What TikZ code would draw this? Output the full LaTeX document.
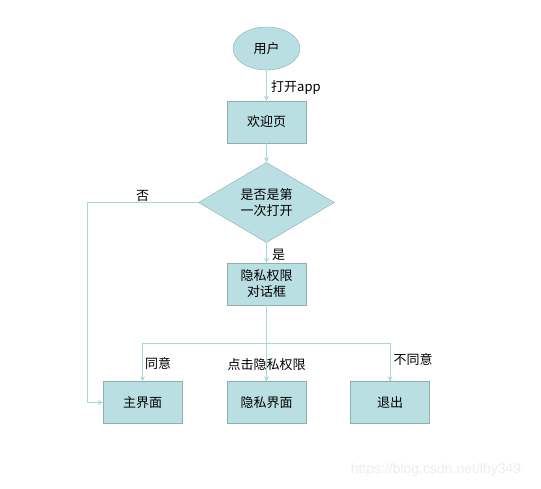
\documentclass[tikz,border=0pt]{standalone}
\usepackage{fontspec}
\newfontfamily\cjk{Noto Sans CJK SC}
\newfontfamily\wmfont{Liberation Sans}
\usetikzlibrary{shapes.geometric,arrows.meta}
\definecolor{boxfill}{HTML}{BADFE3}
\definecolor{boxline}{HTML}{8EAEB0}
\definecolor{flowline}{HTML}{A8D8DF}
\begin{document}
\begin{tikzpicture}[x=1pt,y=-1pt,
    font=\cjk\fontsize{13}{16}\selectfont,
    box/.style={draw=boxline,fill=boxfill,minimum width=79pt,minimum height=42pt,inner sep=1pt,align=center},
    flow/.style={draw=flowline,line width=0.8pt,-{Stealth[length=5pt,width=5pt]}},
    plain/.style={draw=flowline,line width=0.8pt}]
  \useasboundingbox (0,0) rectangle (541,488);
  \def\midx{266.5}

  \node[ellipse,draw=boxline,fill=boxfill,minimum width=67pt,minimum height=43pt] (user) at (\midx,48.5) {用户};
  \node[box] (welcome) at (\midx,122) {欢迎页};
  \node[diamond,draw=boxline,fill=boxfill,minimum width=136pt,minimum height=65pt,inner sep=0pt,align=center] (first) at (\midx,202.5) {是否是第\\一次打开};
  \node[box] (dialog) at (\midx,284) {隐私权限\\对话框};
  \node[box] (home) at (142.5,402.5) {主界面};
  \node[box] (privacy) at (\midx,402.5) {隐私界面};
  \node[box] (quit) at (390,402.5) {退出};

  \coordinate (bend) at (87,202.5);
  \coordinate (fork) at (\midx,343);

  \draw[flow] (user) -- node[right,xshift=1pt,yshift=-2pt] {打开app} (welcome);
  \draw[flow] (welcome) -- (first);
  \draw[flow] (first) -- node[right,xshift=2pt,yshift=-2pt] {是} (dialog);
  \draw[flow] (first.west) -- node[above,yshift=-3pt] {否} (bend) |- (home.west);
  \draw[flow] (dialog) -- node[pos=0.78] {点击隐私权限} (privacy);
  \draw[plain] (fork) -| (home.north);
  \draw[plain] (fork) -| (quit.north);
  \draw[flow] (home.north |- fork) -- node[right,xshift=-1pt,yshift=-1pt] {同意} (home.north);
  \draw[flow] (quit.north |- fork) -- node[right,yshift=3pt] {不同意} (quit.north);

  \node[text=black!7,font=\wmfont\fontsize{14}{16}\selectfont] (mark) at (436,470) {https://blog.csdn.net/lhy349};
\end{tikzpicture}
\end{document}
